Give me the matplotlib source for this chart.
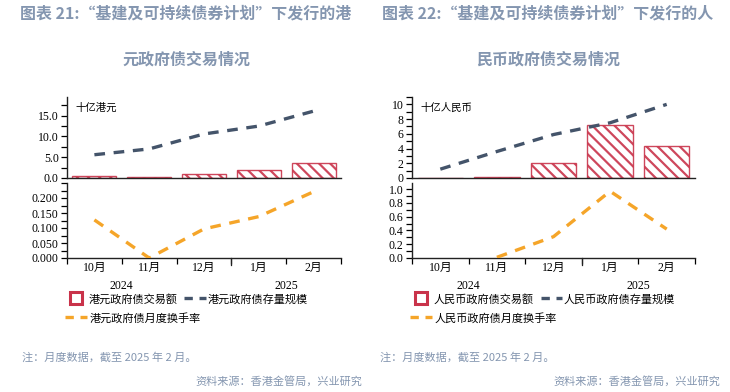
import matplotlib
matplotlib.use('Agg')
import matplotlib.pyplot as plt
import numpy as np
from matplotlib.lines import Line2D

plt.rcParams['font.family'] = ['Noto Sans CJK SC', 'DejaVu Sans']
plt.rcParams['hatch.linewidth'] = 1.6

months = ['10月', '11月', '12月', '1月', '2月']
years = ['2024', '2025']

# 港元
hkd_trade = [0.6, 0.15, 0.95, 1.85, 3.5]
hkd_stock = [5.6, 7.0, 10.6, 12.5, 16.1]
hkd_turnover = [0.127, 0.0, 0.097, 0.138, 0.221]

# 人民币
cny_trade = [0.0, 0.1, 2.05, 7.25, 4.4]
cny_stock = [1.2, 3.6, 5.9, 7.5, 10.0]
cny_turnover = [np.nan, 0.01, 0.31, 0.97, 0.42]

RED = '#c9334a'
NAVY = '#44546a'
ORANGE = '#f5a529'
TITLE = '#8496b0'
NOTE = '#8496b0'
SERIF = 'Liberation Serif'

W, H = 730, 392
fig = plt.figure(figsize=(W / 100, H / 100), dpi=100)


def px_axes(left, right, top, bottom):
    return fig.add_axes([left / W, 1 - bottom / H, (right - left) / W, (bottom - top) / H])


def style_axes(ax, ylim, label_max, major, minor, fmt):
    ax.set_xlim(-0.5, len(months) - 0.5)
    ax.set_ylim(*ylim)
    majors = np.arange(0, label_max + 1e-9, major)
    ax.set_yticks(majors)
    ax.set_yticks(np.arange(0, ylim[1] + 1e-9, minor), minor=True)
    ax.set_yticklabels([fmt.format(v) for v in majors], family=SERIF, fontsize=8.5)
    ax.tick_params(axis='y', which='both', direction='out', length=4, width=0.9, pad=2)
    for s in ['top', 'right']:
        ax.spines[s].set_visible(False)
    for s in ['left', 'bottom']:
        ax.spines[s].set_linewidth(1.0)
        ax.spines[s].set_color('#222222')
    ax.patch.set_alpha(0)


def panel(left, right, trade, stock, turnover, unit, ylim1, max1, maj1, min1, fmt1,
          ylim2, max2, maj2, min2, fmt2, prefix, title1, title2, cx):
    x = np.arange(len(months))
    ax1 = px_axes(left, right, 97, 178)
    ax2 = px_axes(left, right, 183, 258)

    ax1.bar(x, trade, width=0.8, facecolor='white', edgecolor=RED, hatch='\\\\\\',
            linewidth=1.0, alpha=0.9, zorder=2)
    ax1.plot(x, stock, color=NAVY, lw=2.4, dashes=(3.2, 2.6), zorder=3)
    style_axes(ax1, ylim1, max1, maj1, min1, fmt1)
    ax1.set_xticks([])
    ax1.text(0.03, 0.93, unit, transform=ax1.transAxes, fontsize=7.5, va='top', ha='left')

    ax2.plot(x, turnover, color=ORANGE, lw=2.4, dashes=(3.2, 2.6), zorder=3)
    style_axes(ax2, ylim2, max2, maj2, min2, fmt2)
    ax2.set_xticks(np.arange(-0.5, len(months) + 0.5, 1))
    ax2.set_xticklabels([])
    ax2.tick_params(axis='x', which='major', direction='out', length=4, width=0.9)
    ax2.set_xticks(x, minor=True)
    ax2.set_xticklabels(months, minor=True, family=[SERIF, 'Noto Sans CJK SC'], fontsize=8.5)
    ax2.tick_params(axis='x', which='minor', length=0, pad=3)
    # year divider
    ax2.plot([2.5, 2.5], [0, -0.09], transform=ax2.get_xaxis_transform(),
             color='#222222', lw=0.9, clip_on=False)
    ax2.text(0.5, -0.37, years[0], transform=ax2.get_xaxis_transform(), ha='center',
             va='center', family=SERIF, fontsize=8.5)
    ax2.text(3.5, -0.37, years[1], transform=ax2.get_xaxis_transform(), ha='center',
             va='center', family=SERIF, fontsize=8.5)

    # legend
    handles = [Line2D([], [], marker='s', markersize=8, markerfacecolor='white',
                      markeredgecolor=RED, markeredgewidth=2.2, linestyle='none'),
               Line2D([], [], color=NAVY, lw=2.4, dashes=(2.5, 2.0)),
               Line2D([], [], color=ORANGE, lw=2.4, dashes=(2.5, 2.0))]
    labels = [prefix + '政府债交易额', prefix + '政府债存量规模', prefix + '政府债月度换手率']
    fig.legend(handles[:2], labels[:2], loc='upper left',
               bbox_to_anchor=((left - 6) / W, 1 - 289 / H), frameon=False,
               ncol=2, fontsize=8, handlelength=1.9, handletextpad=0.2,
               columnspacing=0.6, borderaxespad=0)
    fig.legend(handles[2:], labels[2:], loc='upper left',
               bbox_to_anchor=((left - 6) / W, 1 - 308 / H), frameon=False,
               fontsize=8, handlelength=1.9, handletextpad=0.3, borderaxespad=0)

    fig.text(cx / W, 1 - 14 / H, title1, ha='center', va='center', fontsize=11.5,
             fontweight='bold', color=TITLE)
    fig.text(cx / W, 1 - 60 / H, title2, ha='center', va='center', fontsize=11.5,
             fontweight='bold', color=TITLE)


panel(67, 341, hkd_trade, hkd_stock, hkd_turnover, '十亿港元',
      (0, 19.5), 15, 5, 2.5, '{:.1f}', (0, 0.25), 0.2, 0.05, 0.025, '{:.3f}',
      '港元', '图表 21:“基建及可持续债券计划”下发行的港', '元政府债交易情况', 186)
panel(412, 695, cny_trade, cny_stock, cny_turnover, '十亿人民币',
      (0, 11), 10, 2, 1, '{:.0f}', (0, 1.09), 1.0, 0.2, 0.1, '{:.1f}',
      '人民币', '图表 22:“基建及可持续债券计划”下发行的人', '民币政府债交易情况', 548)

for x0, x1 in [(22, 362), (380, 720)]:
    fig.text(x0 / W, 1 - 357 / H, '注：月度数据，截至 2025 年 2 月。', ha='left', va='center',
             fontsize=8, color=NOTE)
    fig.text(x1 / W, 1 - 381 / H, '资料来源：香港金管局，兴业研究', ha='right', va='center',
             fontsize=8, color=NOTE)

fig.savefig('out.png', dpi=100)
